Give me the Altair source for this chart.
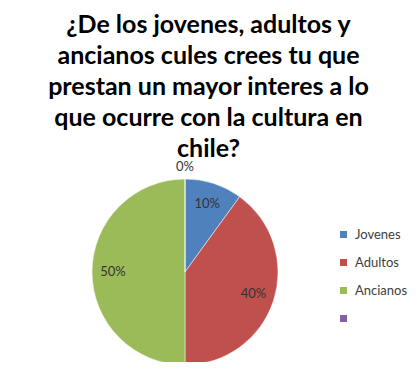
import altair as alt
import pandas as pd

categories = ["Jovenes", "Adultos", "Ancianos", " "]
values = [10, 40, 50, 0]
labels = ["10%", "40%", "50%", "0%"]
order = [1, 2, 3, 4]
colors = ["#4F81BD", "#C0504D", "#9BBB59", "#8064A2"]

title_lines = [
    "¿De los jovenes, adultos y",
    "ancianos cules crees tu que",
    "prestan un  mayor interes a lo",
    "que ocurre con la cultura en",
    "chile?",
]

df = pd.DataFrame({"cat": categories, "val": values, "lab": labels, "ord": order})

FONT = "Lato"

base = alt.Chart(df).encode(
    theta=alt.Theta("val:Q", stack=True),
    order=alt.Order("ord:Q"),
)

cx = alt.value(177)
cy = alt.value(264)

pie = base.mark_arc(outerRadius=93, stroke="white", strokeWidth=0.5).encode(
    x=cx, y=cy,
    color=alt.Color(
        "cat:N",
        scale=alt.Scale(domain=categories, range=colors),
        sort=categories,
        legend=alt.Legend(
            title=None, orient="none", legendX=329, legendY=220,
            symbolType="square", symbolSize=49, symbolStrokeWidth=0,
            labelFontSize=13, labelFont=FONT, labelColor="#404040",
            rowPadding=14, labelOffset=5,
        ),
    ),
)

txt = base.mark_text(radius=72, fontSize=13, font=FONT, color="#333333").encode(
    x=cx, y=cy, text="lab:N"
).transform_filter("datum.val > 0")

txt0 = base.mark_text(radius=105, fontSize=13, font=FONT, color="#333333").encode(
    x=cx, y=cy, text="lab:N"
).transform_filter("datum.val == 0")

title = alt.Chart(pd.DataFrame({"t": [0]})).mark_text(
    text=title_lines, fontSize=25, fontWeight="bold", font=FONT,
    lineHeight=31, align="center", baseline="alphabetic", color="#000000",
).encode(x=alt.value(200.5), y=alt.value(25))

chart = alt.layer(title, pie, txt, txt0).properties(
    width=401, height=354,
    autosize=alt.AutoSizeParams(type="none"),
    padding=0,
).configure_view(stroke=None)

chart.save("out.html", embed_options={"renderer": "svg", "actions": False})
